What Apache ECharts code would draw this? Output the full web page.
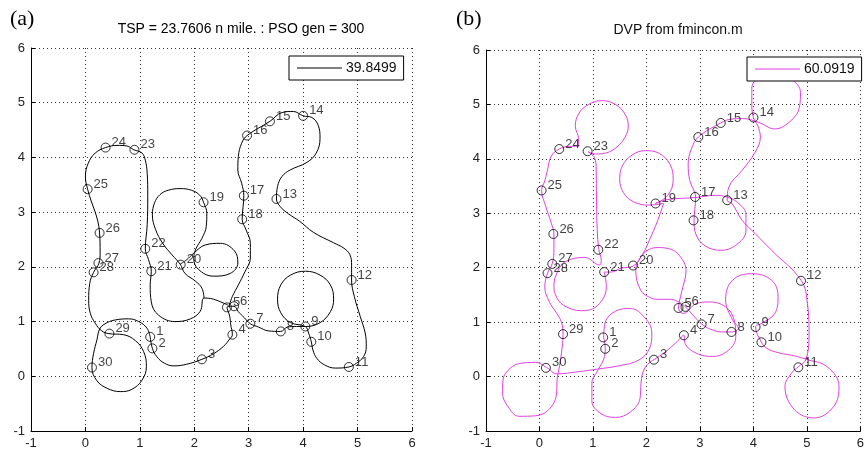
<!DOCTYPE html>
<html>
<head>
<meta charset="utf-8">
<script src="https://cdn.jsdelivr.net/npm/echarts@6/dist/echarts.min.js"></script>
<style>
  html, body { margin: 0; padding: 0; background: #fff; }
  #chart { width: 867px; height: 455px; }
</style>
</head>
<body>
<div id="chart"></div>
<script>
// waypoints (same set in both panels)
const wpNames = ["1","2","3","4","5","6","7","8","9","10","11","12","13","14","15",
  "16","17","18","19","20","21","22","23","24","25","26","27","28","29","30"];
const wpX = [1.19, 1.23, 2.14, 2.70, 2.60, 2.73, 3.03, 3.59, 4.04, 4.15, 4.84, 4.89, 3.51, 4.00, 3.39,
  2.97, 2.91, 2.88, 2.17, 1.75, 1.21, 1.10, 0.90, 0.37, 0.04, 0.26, 0.24, 0.15, 0.44, 0.12];
const wpY = [0.72, 0.51, 0.31, 0.76, 1.26, 1.28, 0.96, 0.82, 0.91, 0.63, 0.17, 1.76, 3.24, 4.76, 4.66,
  4.40, 3.30, 2.87, 3.18, 2.04, 1.92, 2.33, 4.14, 4.18, 3.42, 2.62, 2.07, 1.90, 0.78, 0.16];

// (a) PSO / TSP path
const psoName = "39.8499";
const psoPieceA = [[1.19,0.72],[1.23,0.51],[1.31,0.36],[1.45,0.24],[1.62,0.19],[1.86,0.22],[2.14,0.31],
  [2.35,0.41],[2.54,0.55],[2.65,0.68],[2.70,0.76],[2.67,0.94],[2.65,1.10],[2.60,1.26],[2.73,1.28],
  [2.81,1.18],[2.92,1.07],[3.03,0.96],[3.18,0.90],[3.36,0.83],[3.59,0.82],[3.71,0.90],[3.88,0.91],
  [4.04,0.91],[4.31,0.98],[4.50,1.18],[4.56,1.41],[4.50,1.67],[4.31,1.85],[4.04,1.92],[3.77,1.85],
  [3.59,1.67],[3.53,1.41],[3.59,1.16],[3.77,0.98],[4.04,0.91],[4.10,0.79],[4.15,0.63],[4.18,0.48],
  [4.25,0.33],[4.39,0.21],[4.59,0.15],[4.84,0.17],[4.98,0.24],[5.11,0.36],[5.16,0.54],[5.14,0.79],
  [5.05,1.09],[4.94,1.46],[4.89,1.76],[4.89,2.03],[4.86,2.22],[4.75,2.34],[4.56,2.44],[4.19,2.63],
  [3.94,2.83],[3.73,2.97],[3.58,3.10],[3.51,3.24],[3.53,3.47],[3.61,3.65],[3.76,3.77],[4.07,3.91],
  [4.24,4.08],[4.31,4.35],[4.28,4.58],[4.16,4.73],[4.00,4.76],[3.82,4.84],[3.61,4.82],[3.39,4.66],
  [2.97,4.40],[2.87,4.26],[2.81,4.02],[2.80,3.77],[2.87,3.53],[2.91,3.30],[2.88,2.87],[2.95,2.68],
  [3.03,2.43],[3.03,2.16],[2.93,1.91],[2.81,1.67],[2.70,1.46],[2.64,1.30],[2.62,1.27]];
const psoPieceB = [[2.62,1.30],[2.35,1.41],[2.18,1.43],[2.11,1.19],[1.93,1.05],[1.65,1.00],[1.34,1.12],
  [1.21,1.36],[1.19,1.67],[1.21,1.92],[1.16,2.13],[1.10,2.33],[1.135,2.77],[1.145,3.31],[1.135,3.71],
  [1.10,3.95],[1.04,4.08],[0.89,4.14],[0.76,4.21],[0.58,4.22],[0.37,4.18],[0.18,4.08],[0.05,3.89],
  [0.00,3.65],[0.04,3.42],[0.26,2.62],[0.27,2.25],[0.25,2.07],[0.15,1.90],[0.08,1.70],[0.06,1.39],
  [0.09,1.15],[0.18,0.97],[0.30,0.83],[0.43,0.78],[0.70,0.76],[0.92,0.65],[1.07,0.45],[1.12,0.18],
  [1.04,-0.07],[0.85,-0.24],[0.64,-0.28],[0.40,-0.22],[0.21,-0.08],[0.12,0.16],[0.15,0.42],[0.21,0.66],
  [0.27,0.88],[0.40,0.98],[0.55,1.03],[0.79,1.05],[0.98,1.00],[1.13,0.88],[1.19,0.72]];
const psoPieceC = [[2.18,1.43],[2.14,1.61],[2.02,1.74],[1.83,1.88],[1.74,2.05],[1.59,2.22],[1.42,2.43],
  [1.29,2.68],[1.23,2.95],[1.27,3.17],[1.37,3.32],[1.52,3.40],[1.74,3.43],[1.95,3.40],[2.10,3.31],
  [2.17,3.18],[2.23,2.98],[2.22,2.74],[2.14,2.52],[2.03,2.33],[1.99,2.16],[2.07,1.96],[2.35,1.83],
  [2.66,1.88],[2.80,2.07],[2.74,2.29],[2.48,2.43],[2.20,2.40],[1.99,2.25],[1.86,2.13],[1.74,2.05]];

// (b) DVP from fmincon, one closed tour with its loops
const dvpName = "60.0919";
const dvpPath = [[1.20,0.72],[1.23,0.51],[1.20,0.32],[1.10,0.13],[0.98,-0.12],[0.98,-0.45],[1.15,-0.68],
  [1.42,-0.75],[1.70,-0.65],[1.88,-0.40],[1.90,-0.10],[1.95,0.12],[2.05,0.25],[2.14,0.31],[2.35,0.45],
  [2.55,0.62],[2.70,0.76],[2.72,0.61],[2.93,0.43],[3.24,0.37],[3.54,0.49],[3.67,0.73],[3.64,1.04],
  [3.48,1.28],[3.18,1.37],[2.93,1.34],[2.69,1.16],[2.60,1.26],[2.66,1.56],[2.74,1.95],[2.62,2.22],
  [2.45,2.34],[2.20,2.37],[1.95,2.26],[1.80,1.95],[1.89,1.59],[2.05,1.46],[2.20,1.42],[2.45,1.42],
  [2.62,1.36],[2.73,1.28],[2.85,1.15],[3.04,0.96],[3.25,0.85],[3.45,0.82],[3.59,0.82],[3.72,0.89],
  [3.61,1.04],[3.48,1.41],[3.61,1.77],[3.97,1.89],[4.34,1.77],[4.46,1.47],[4.40,1.16],[4.16,0.98],
  [4.04,0.91],[4.15,0.63],[4.25,0.52],[4.46,0.44],[4.77,0.38],[4.98,0.32],[5.38,0.18],[5.60,-0.18],
  [5.50,-0.55],[5.14,-0.76],[4.77,-0.61],[4.59,-0.18],[4.71,0.06],[4.84,0.18],[4.98,0.31],[5.04,0.76],
  [5.01,1.34],[4.89,1.77],[4.34,2.32],[4.03,2.63],[3.79,2.87],[3.60,3.18],[3.51,3.24],[3.54,3.48],
  [3.79,3.79],[4.03,4.12],[4.13,4.40],[4.08,4.61],[4.00,4.76],[3.97,5.00],[3.97,5.30],[4.10,5.48],
  [4.40,5.56],[4.70,5.47],[4.88,5.22],[4.86,4.95],[4.70,4.70],[4.40,4.55],[4.10,4.67],[3.80,4.74],
  [3.58,4.73],[3.39,4.66],[2.97,4.40],[2.84,4.18],[2.78,3.91],[2.81,3.60],[2.90,3.39],[2.92,3.30],
  [2.89,2.87],[2.93,2.60],[3.10,2.40],[3.39,2.32],[3.68,2.42],[3.86,2.68],[3.86,2.98],[3.70,3.20],
  [3.50,3.30],[3.30,3.33],[2.92,3.29],[2.38,3.25],[2.17,3.18],[2.40,3.33],[2.50,3.62],[2.44,3.90],
  [2.24,4.10],[1.98,4.15],[1.73,4.07],[1.55,3.87],[1.50,3.62],[1.57,3.38],[1.76,3.21],[2.05,3.15],
  [2.32,3.18],[2.20,2.84],[2.07,2.54],[1.92,2.23],[1.75,2.03],[1.52,1.99],[1.34,1.92],[1.21,1.92],
  [1.25,1.65],[1.09,1.31],[0.79,1.21],[0.45,1.31],[0.30,1.50],[0.27,1.68],[0.35,1.95],[0.48,2.11],
  [0.85,2.19],[1.12,2.05],[1.155,2.14],[1.11,2.33],[1.08,2.70],[1.065,3.30],[1.06,3.80],[1.03,4.02],
  [0.91,4.13],[1.05,4.09],[1.25,4.11],[1.45,4.22],[1.60,4.40],[1.66,4.60],[1.60,4.82],[1.42,5.00],
  [1.16,5.07],[0.92,5.00],[0.74,4.84],[0.67,4.60],[0.73,4.37],[0.73,4.23],[0.57,4.23],[0.37,4.18],
  [0.22,4.05],[0.15,3.80],[0.10,3.60],[0.04,3.42],[0.12,3.12],[0.22,2.82],[0.27,2.62],[0.27,2.35],
  [0.24,2.08],[0.15,1.90],[0.10,1.65],[0.18,1.38],[0.31,1.18],[0.41,1.00],[0.44,0.78],[0.41,0.43],
  [0.36,0.12],[0.33,-0.05],[0.32,-0.30],[0.20,-0.58],[-0.07,-0.72],[-0.38,-0.73],[-0.59,-0.55],
  [-0.69,-0.30],[-0.68,-0.05],[-0.55,0.15],[-0.37,0.24],[-0.07,0.26],[0.13,0.17],[0.33,0.05],
  [0.73,0.09],[1.10,0.14],[1.50,0.20],[1.85,0.30],[2.05,0.50],[2.10,0.80],[1.97,1.08],[1.70,1.25],
  [1.42,1.20],[1.23,1.00],[1.20,0.72]];

const tickLabels = ["-1","0","1","2","3","4","5","6"];

const FONT = "Liberation Sans, Arial, sans-serif";
const BLACK = "#000";
const MAGENTA = "#e040e0";

const chart = echarts.init(document.getElementById("chart"), null, { renderer: "canvas" });

function makeAxis(gridIndex) {
  return {
    gridIndex: gridIndex,
    type: "value",
    min: -1,
    max: 6,
    interval: 1,
    axisLine: { show: true, onZero: false, lineStyle: { color: "#000", width: 1 } },
    axisTick: { show: true, inside: true, length: 4, lineStyle: { color: "#000" } },
    axisLabel: {
      color: "#222",
      fontSize: 13,
      fontFamily: FONT,
      margin: 6,
      formatter: (v) => tickLabels[Math.round(v) + 1],
    },
    splitLine: { show: true, lineStyle: { color: "#333", width: 1, type: [1, 3] } },
  };
}

function pathSeries(name, pts, idx, color) {
  return {
    name: name,
    type: "line",
    xAxisIndex: idx,
    yAxisIndex: idx,
    data: pts,
    showSymbol: false,
    smooth: 0.4,
    lineStyle: { color: color, width: 1 },
    itemStyle: { color: color },
    z: 2,
    silent: true,
  };
}

function wpSeries(idx) {
  return {
    type: "scatter",
    xAxisIndex: idx,
    yAxisIndex: idx,
    data: wpX.map((x, i) => ({ name: wpNames[i], value: [x, wpY[i]] })),
    symbol: "circle",
    symbolSize: 9,
    itemStyle: { color: "rgba(0,0,0,0)", borderColor: "#000", borderWidth: 1 },
    label: {
      show: true,
      position: "right",
      distance: 1,
      offset: [0, -5],
      formatter: (p) => p.name,
      fontSize: 13,
      fontFamily: FONT,
      color: "#111",
    },
    z: 3,
    silent: true,
  };
}

function makeLegend(name, left, top) {
  return {
    data: [name],
    left: left,
    top: top,
    icon: "rect",
    itemWidth: 45,
    itemHeight: 1,
    itemGap: 0,
    padding: [5, 7, 5, 8],
    borderColor: "#000",
    borderWidth: 1,
    backgroundColor: "#fff",
    selectedMode: false,
    textStyle: { fontSize: 14, fontFamily: FONT, color: "#111", padding: [0, 0, 0, -1] },
  };
}

const option = {
  animation: false,
  backgroundColor: "#fff",
  grid: [
    { left: 31, top: 48, width: 381, height: 383 },
    { left: 486, top: 50, width: 381, height: 381 },
  ],
  xAxis: [makeAxis(0), makeAxis(1)],
  yAxis: [makeAxis(0), makeAxis(1)],
  legend: [makeLegend(psoName, 289, 56), makeLegend(dvpName, 747, 57)],
  graphic: [
    { type: "text", x: 10, y: 8, style: { text: "(a)", fontSize: 22, fontFamily: "Liberation Serif, Times New Roman, serif", fill: "#000" } },
    { type: "text", x: 241, y: 22, style: { text: "TSP = 23.7606 n mile. : PSO gen = 300", align: "center", textAlign: "center", fontSize: 14, fontFamily: FONT, fill: "#000" } },
    { type: "text", x: 456, y: 8, style: { text: "(b)", fontSize: 22, fontFamily: "Liberation Serif, Times New Roman, serif", fill: "#000" } },
    { type: "text", x: 678, y: 23, style: { text: "DVP from fmincon.m", align: "center", textAlign: "center", fontSize: 14, fontFamily: FONT, fill: "#111" } },
  ],
  series: [
    pathSeries(psoName, psoPieceA, 0, BLACK),
    pathSeries(psoName, psoPieceB, 0, BLACK),
    pathSeries(psoName, psoPieceC, 0, BLACK),
    wpSeries(0),
    pathSeries(dvpName, dvpPath, 1, MAGENTA),
    wpSeries(1),
  ],
};

chart.setOption(option);
</script>
</body>
</html>
